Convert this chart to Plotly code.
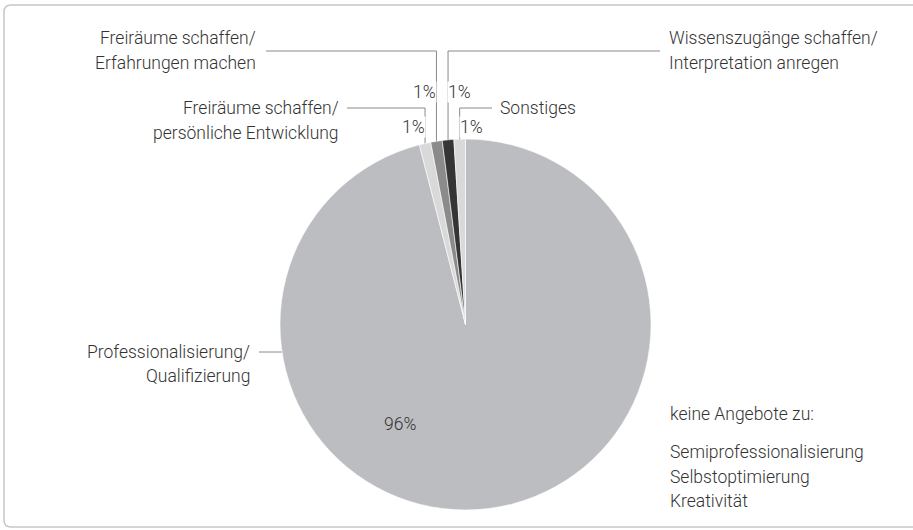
import math
import plotly.graph_objects as go

# ---- data ----
labels = [
    "Professionalisierung/<br>Qualifizierung",
    "Freiräume schaffen/<br>persönliche Entwicklung",
    "Freiräume schaffen/<br>Erfahrungen machen",
    "Wissenszugänge schaffen/<br>Interpretation anregen",
    "Sonstiges",
]
values = [96, 1, 1, 1, 1]
pct_labels = ["96%", "1%", "1%", "1%", "1%"]
colors = ["#bcbdc1", "#d9d9d9", "#8b8b8b", "#353535", "#d9d9d9"]
note_title = "keine Angebote zu:"
note_items = ["Semiprofessionalisierung", "Selbstoptimierung", "Kreativität"]

# ---- layout constants (pixels) ----
W, H = 913, 530
CX, CY, R = 465.5, 324.5, 185.5
FONT = "Roboto"
TXT = "#333333"
LINE = "#8a8a8a"
FS = 17.5
LH = 25


def px(x):
    return x / W


def py(y):
    return 1 - y / H


fig = go.Figure()
fig.add_trace(go.Pie(
    labels=[l.replace("<br>", " ") for l in labels],
    values=values,
    sort=False,
    direction="clockwise",
    rotation=0,
    marker=dict(colors=colors, line=dict(color="white", width=0.6)),
    textinfo="none",
    hoverinfo="label+percent",
    showlegend=False,
    domain=dict(x=[px(CX - R), px(CX + R)], y=[py(CY + R), py(CY - R)]),
))

shapes = []
annotations = []


def ann(x, y, text, xanchor="left", size=FS, bg=None):
    d = dict(
        x=px(x), y=py(y), xref="paper", yref="paper", text=text,
        showarrow=False, xanchor=xanchor, yanchor="middle",
        font=dict(family=FONT, size=size, color=TXT, weight=300),
    )
    if bg:
        d.update(bgcolor=bg, borderpad=0)
    annotations.append(d)


def seg(x0, y0, x1, y1):
    shapes.append(dict(type="line", xref="paper", yref="paper", layer="below",
                       x0=px(x0), y0=py(y0), x1=px(x1), y1=py(y1),
                       line=dict(color=LINE, width=1)))


total = sum(values)
cum = 0
mid_angles = []
for v in values:
    mid_angles.append((cum + v / 2) / total * 2 * math.pi)
    cum += v

# small slices: leader lines going up from the rim
small_cfg = {
    1: dict(level=108, side="left", hx=347, tx=341, ty=108, pct_y=127),
    2: dict(level=51, side="left", hx=266, tx=258, ty=38, pct_y=92),
    3: dict(level=51, side="right", hx=660, tx=667, ty=38, pct_y=92),
    4: dict(level=108, side="right", hx=492, tx=498, ty=108, pct_y=127),
}
for i, cfg in small_cfg.items():
    a = mid_angles[i]
    lx = CX + R * math.sin(a)
    ly = CY - R * math.cos(a) + 4
    seg(lx, ly, lx, cfg["level"])
    seg(lx, cfg["level"], cfg["hx"], cfg["level"])
    lines = labels[i].split("<br>")
    anchor = "right" if cfg["side"] == "left" else "left"
    for k, t in enumerate(lines):
        ann(cfg["tx"], cfg["ty"] + k * LH, t, anchor)
    ann(lx + (1 if anchor == "right" else -1), cfg["pct_y"], pct_labels[i],
        anchor, bg="white")

# big slice label
big_y = 352
seg(259, big_y, 292, big_y)
for k, t in enumerate(labels[0].split("<br>")):
    ann(252, big_y + k * 24, t, "right")
ann(400, 424, pct_labels[0], "center")

# note
ann(668, 414, note_title, "left")
for k, t in enumerate(note_items):
    ann(668, 452 + k * 24.5, t, "left")

# rounded frame
r = 7
x0, y0, x1, y1 = 4, 5, 920, 527
path = (f"M {px(x0 + r)},{py(y0)} L {px(x1 - r)},{py(y0)} "
        f"Q {px(x1)},{py(y0)} {px(x1)},{py(y0 + r)} "
        f"L {px(x1)},{py(y1 - r)} Q {px(x1)},{py(y1)} {px(x1 - r)},{py(y1)} "
        f"L {px(x0 + r)},{py(y1)} Q {px(x0)},{py(y1)} {px(x0)},{py(y1 - r)} "
        f"L {px(x0)},{py(y0 + r)} Q {px(x0)},{py(y0)} {px(x0 + r)},{py(y0)} Z")
shapes.append(dict(type="path", xref="paper", yref="paper", path=path,
                   line=dict(color="#c6c6c6", width=1.5)))

fig.update_layout(
    width=W, height=H,
    margin=dict(l=0, r=0, t=0, b=0),
    paper_bgcolor="white",
    plot_bgcolor="white",
    shapes=shapes,
    annotations=annotations,
    font=dict(family=FONT, size=FS, color=TXT),
)

fig.write_html("out.html", config={"displayModeBar": False},
               post_script="document.body.style.margin='0px';")
